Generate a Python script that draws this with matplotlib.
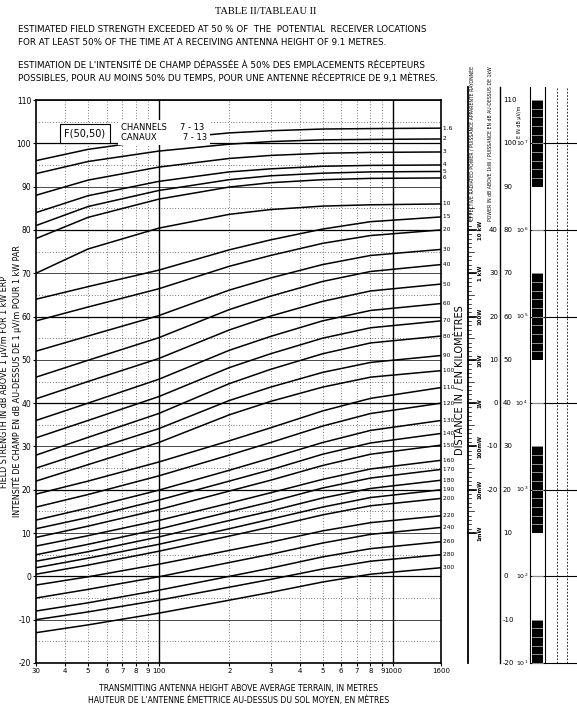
import matplotlib
matplotlib.use("Agg")
import matplotlib.pyplot as plt
from matplotlib.ticker import FixedLocator, NullFormatter

heights = [30, 50, 100, 200, 300, 500, 800, 1600]
distances = ["1.6","2","3","4","5","6","10","15","20","30","40","50","60","70","80","90","100",
             "110","120","130","140","150","160","170","180","190","200","220","240","260","280","300"]
field = [
 [96,98.6,100.9,102.4,102.9,103.3,103.4,103.5],
 [93,95.8,98.2,99.8,100.4,100.8,100.9,101],
 [88,91.5,94.5,96.5,97.2,97.7,97.9,98],
 [84,87.9,91.2,93.4,94.1,94.7,94.9,95],
 [81,85.4,89.1,91.6,92.5,93.1,93.4,93.5],
 [78,82.9,87.1,89.9,90.9,91.6,91.9,92],
 [70,75.6,80.4,83.6,84.7,85.5,85.8,86],
 [64,66.9,70.7,75.4,77.7,80.2,81.9,83],
 [59,62.2,66.4,71.6,74.1,76.9,78.7,80],
 [52,55.5,60.2,66.1,68.9,72,74.1,75.5],
 [46,49.9,55.1,61.6,64.7,68.1,70.4,72],
 [41,45,50.3,56.9,60.1,63.5,65.9,67.5],
 [36,40,45.5,52.2,55.4,59,61.4,63],
 [32,36,41.5,48.2,51.4,55,57.4,59],
 [28,32.1,37.6,44.5,47.8,51.4,53.9,55.5],
 [25,28.9,34.1,40.6,43.7,47.1,49.4,51],
 [22,25.8,30.9,37.3,40.4,43.7,46,47.5],
 [19,22,26.4,31.3,34.3,38.2,41.1,43.6],
 [16,18.9,23.2,28,30.9,34.7,37.6,40],
 [13,15.8,19.9,24.5,27.3,30.9,33.7,36],
 [11,13.6,17.6,22,24.6,28.2,30.8,33],
 [9,11.6,15.4,19.7,22.2,25.6,28.2,30.3],
 [7,9.4,12.9,16.9,19.3,22.4,24.8,26.8],
 [5,7.4,10.9,14.9,17.2,20.4,22.7,24.7],
 [3.5,5.7,9.1,12.9,15.1,18.1,20.3,22.2],
 [2,4.2,7.4,11,13.2,16,18.2,20],
 [0.5,2.6,5.8,9.3,11.4,14.2,16.3,18],
 [-2,-0.1,2.8,6,7.9,10.5,12.4,14],
 [-5,-3,-0.1,3.2,5.1,7.7,9.7,11.3],
 [-8,-6.1,-3.2,0,1.9,4.5,6.4,8],
 [-10,-8.2,-5.5,-2.5,-0.7,1.7,3.5,5],
 [-13,-11.2,-8.5,-5.5,-3.7,-1.3,0.5,2],
]
x_tick_vals = [30,40,50,60,70,80,90,100,200,300,400,500,600,700,800,900,1000,1600]
x_tick_labels = ["30","4","5","6","7","8","9","100","2","3","4","5","6","7","8","9","1000","1600"]
y_ticks = list(range(-20, 111, 10))
erp_labels = ["10 kW","1 kW","100W","10W","1W","100mW","10mW","1mW"]
erp_db = [80,70,60,50,40,30,20,10]
pow_labels = [40,30,20,10,0,-10,-20]
pow_db = [80,70,60,50,40,30,20]
uv_labels = ["10$^7$","10$^6$","10$^5$","10$^4$","10$^3$","10$^2$","10$^1$"]
uv_db = [100,80,60,40,20,0,-20]

W, H = 577, 711
plt.rcParams['font.family'] = 'DejaVu Sans'
fig = plt.figure(figsize=(W/100, H/100), dpi=100)
L, R, T, B = 36, 441, 100, 663
ax = fig.add_axes([L/W, 1-B/H, (R-L)/W, (B-T)/H])
ax.set_xscale('log')
ax.set_xlim(30, 1600)
ax.set_ylim(-20, 110)
for row in field:
    ax.plot(heights, row, color='black', lw=1.1)
ax.xaxis.set_major_locator(FixedLocator(x_tick_vals))
ax.set_xticklabels(x_tick_labels, fontsize=5)
ax.xaxis.set_minor_formatter(NullFormatter())
ax.set_yticks(y_ticks)
ax.set_yticklabels([str(v) for v in y_ticks], fontsize=5.5)
ax.tick_params(axis='both', length=2, pad=1.5)
for v in y_ticks:
    ax.axhline(v, color='black', lw=0.9 if v % 20 == 0 else 0.5)
for v in range(-15, 110, 10):
    ax.axhline(v, color='black', lw=0.5, ls=(0, (1, 3)))
for v in [100, 1000]:
    ax.axvline(v, color='black', lw=1.0)
for v in [40,50,60,70,80,90,200,300,400,500,600,700,800,900]:
    ax.axvline(v, color='black', lw=0.5, ls=(0, (1, 3)))
for s in ax.spines.values():
    s.set_linewidth(1.2)
ax.text(0.07, 0.935, "F(50,50)", transform=ax.transAxes, fontsize=7, zorder=5,
        bbox=dict(facecolor='white', edgecolor='black', lw=0.8, pad=3))
ax.text(0.21, 0.96, "CHANNELS     7 - 13\nCANAUX          7 - 13", transform=ax.transAxes, zorder=5,
        fontsize=6, va='top', bbox=dict(facecolor='white', edgecolor='none', pad=2))
for name, row in zip(distances, field):
    ax.text(1600, row[-1], " " + name, fontsize=4.3, va='center', ha='left', clip_on=False)

fig.text(0.5*(L+R)/W, 1-684/H, "TRANSMITTING ANTENNA HEIGHT ABOVE AVERAGE TERRAIN, IN METRES\nHAUTEUR DE L'ANTENNE ÉMETTRICE AU-DESSUS DU SOL MOYEN, EN MÈTRES",
         ha='center', va='top', fontsize=5.6, linespacing=1.4)
fig.text(11/W, 1-(T+B)/2/H, "FIELD STRENGTH IN dB ABOVE 1 μV/m FOR 1 kW ERP\nINTENSITÉ DE CHAMP EN dB AU-DESSUS DE 1 μV/m POUR 1 kW PAR",
         rotation=90, ha='center', va='center', fontsize=5.8, linespacing=1.3)
fig.text(460/W, 1-380/H, "DISTANCE IN / EN KILOMÈTRES", rotation=90, ha='center', va='center', fontsize=7)
fig.text(0.46, 1-12/H, "TABLE II/TABLEAU II", ha='center', va='center', fontsize=7.5, family='Liberation Serif')
fig.text(18/W, 1-36/H, "ESTIMATED FIELD STRENGTH EXCEEDED AT 50 % OF  THE  POTENTIAL  RECEIVER LOCATIONS\nFOR AT LEAST 50% OF THE TIME AT A RECEIVING ANTENNA HEIGHT OF 9.1 METRES.",
         ha='left', va='center', fontsize=6.3, linespacing=1.5)
fig.text(18/W, 1-72/H, "ESTIMATION DE L'INTENSITÉ DE CHAMP DÉPASSÉE À 50% DES EMPLACEMENTS RÉCEPTEURS\nPOSSIBLES, POUR AU MOINS 50% DU TEMPS, POUR UNE ANTENNE RÉCEPTRICE DE 9,1 MÈTRES.",
         ha='left', va='center', fontsize=6.3, linespacing=1.5)

# right-hand scales
sx = fig.add_axes([441/W, 1-B/H, (W-441)/W, (B-T)/H])
sx.set_xlim(441, W)
sx.set_ylim(-20, 110)
sx.axis('off')
kw = dict(color='black', clip_on=False)
sx.plot([468, 468], [-20, 113], lw=1.3, **kw)
sx.plot([500, 500], [-20, 113], lw=1.0, **kw)
sx.plot([545, 545], [-20, 113], lw=0.8, **kw)
sx.plot([557, 557], [-20, 113], lw=0.6, ls=(0, (2, 2)), **kw)
sx.plot([567, 567], [-20, 113], lw=0.6, ls=(0, (2, 2)), **kw)
sx.plot([530, 530], [-20, 113], lw=0.8, **kw)
for y in range(10, 86, 1):
    sx.plot([468, 471 if y % 5 else 474], [y, y], lw=0.5, **kw)
for lab, y in zip(erp_labels, erp_db):
    sx.text(480, y, lab, rotation=90, fontsize=4, va='center', ha='center', weight='bold')
    sx.plot([468, 476], [y, y], lw=1.2, **kw)
for lab, y in zip(pow_labels, pow_db):
    sx.text(498, y, str(lab), fontsize=5, va='center', ha='right')
for y in y_ticks:
    sx.text(503, y, str(y), fontsize=5, va='center', ha='left')
for lab, y in zip(uv_labels, uv_db):
    sx.text(528, y, lab, fontsize=4.5, va='center', ha='right')
    sx.plot([530, W], [y, y], lw=0.8, **kw)
for y0 in [100, 60, 20, -20]:
    sx.fill_between([532, 543], [y0 - 10, y0 - 10], [y0 + 10 if y0 < 100 else 110, y0 + 10 if y0 < 100 else 110], color='black', lw=0)
for y in range(-20, 111, 2):
    sx.plot([532, 543], [y, y], lw=0.4, color='white', clip_on=False)
sx.text(472, 100, "EFFECTIVE RADIATED POWER / PUISSANCE APPARENTE RAYONNÉE", rotation=90, fontsize=3.3, va='center', ha='center')
sx.text(490, 100, "POWER IN dB ABOVE 1kW / PUISSANCE EN dB AU-DESSUS DE 1kW", rotation=90, fontsize=3.3, va='center', ha='center')
sx.text(520, 105, "E IN dB μV/m", rotation=90, fontsize=3.5, va='center', ha='center')
fig.savefig("out.png", dpi=100)
